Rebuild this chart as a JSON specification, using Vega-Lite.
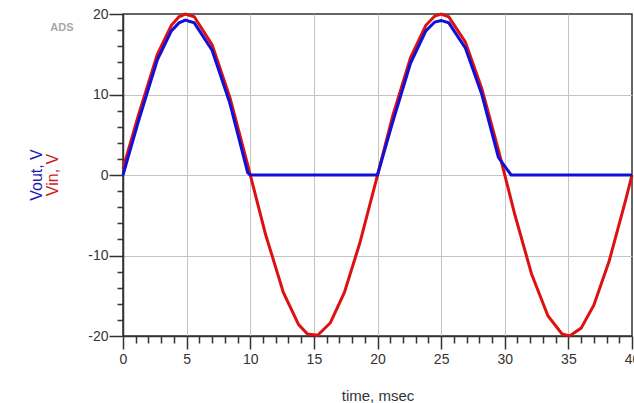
{
  "$schema": "https://vega.github.io/schema/vega-lite/v6.json",
  "autosize": {"type": "none"},
  "padding": {"left": 123, "top": 14, "right": 2, "bottom": 67},
  "width": 509,
  "height": 322,
  "background": "white",
  "config": {
    "view": {"stroke": "#333333", "strokeWidth": 1.5},
    "font": "Liberation Sans",
    "axis": {"labelFont": "Liberation Sans", "titleFont": "Liberation Sans", "labelColor": "#333333", "titleColor": "#333333", "domainColor": "#333333", "tickColor": "#333333", "domainWidth": 1.5, "tickWidth": 1.5, "gridColor": "#c4c4c4", "gridWidth": 1}
  },
  "datasets": {
    "wave": [
      {"t": 0, "v": 0.8, "s": "Vin"},
      {"t": 1.2, "v": 7.36, "s": "Vin"},
      {"t": 2.7, "v": 15.0, "s": "Vin"},
      {"t": 3.8, "v": 18.6, "s": "Vin"},
      {"t": 4.4, "v": 19.65, "s": "Vin"},
      {"t": 4.9, "v": 19.99, "s": "Vin"},
      {"t": 5.6, "v": 19.65, "s": "Vin"},
      {"t": 7.0, "v": 16.18, "s": "Vin"},
      {"t": 8.4, "v": 9.63, "s": "Vin"},
      {"t": 9.8, "v": 1.26, "s": "Vin"},
      {"t": 11.2, "v": -7.36, "s": "Vin"},
      {"t": 12.6, "v": -14.58, "s": "Vin"},
      {"t": 13.8, "v": -18.59, "s": "Vin"},
      {"t": 14.5, "v": -19.75, "s": "Vin"},
      {"t": 15.3, "v": -19.91, "s": "Vin"},
      {"t": 16.3, "v": -18.35, "s": "Vin"},
      {"t": 17.4, "v": -14.58, "s": "Vin"},
      {"t": 18.6, "v": -8.51, "s": "Vin"},
      {"t": 19.9, "v": -0.63, "s": "Vin"},
      {"t": 21.2, "v": 7.36, "s": "Vin"},
      {"t": 22.6, "v": 14.58, "s": "Vin"},
      {"t": 23.8, "v": 18.6, "s": "Vin"},
      {"t": 24.5, "v": 19.75, "s": "Vin"},
      {"t": 25.0, "v": 20.0, "s": "Vin"},
      {"t": 25.6, "v": 19.65, "s": "Vin"},
      {"t": 26.9, "v": 16.54, "s": "Vin"},
      {"t": 28.2, "v": 10.72, "s": "Vin"},
      {"t": 29.5, "v": 3.13, "s": "Vin"},
      {"t": 30.8, "v": -4.97, "s": "Vin"},
      {"t": 32.1, "v": -12.26, "s": "Vin"},
      {"t": 33.4, "v": -17.52, "s": "Vin"},
      {"t": 34.5, "v": -19.75, "s": "Vin"},
      {"t": 35.1, "v": -19.99, "s": "Vin"},
      {"t": 36.0, "v": -19.02, "s": "Vin"},
      {"t": 37.0, "v": -16.18, "s": "Vin"},
      {"t": 38.2, "v": -10.72, "s": "Vin"},
      {"t": 39.5, "v": -3.13, "s": "Vin"},
      {"t": 40.0, "v": 0, "s": "Vin"},
      {"t": 0, "v": 0, "s": "Vout"},
      {"t": 1.2, "v": 6.6, "s": "Vout"},
      {"t": 2.7, "v": 14.3, "s": "Vout"},
      {"t": 3.8, "v": 17.9, "s": "Vout"},
      {"t": 4.4, "v": 18.9, "s": "Vout"},
      {"t": 4.9, "v": 19.25, "s": "Vout"},
      {"t": 5.6, "v": 18.9, "s": "Vout"},
      {"t": 7.0, "v": 15.5, "s": "Vout"},
      {"t": 8.4, "v": 8.9, "s": "Vout"},
      {"t": 9.8, "v": 0.3, "s": "Vout"},
      {"t": 10.0, "v": 0, "s": "Vout"},
      {"t": 15.0, "v": 0, "s": "Vout"},
      {"t": 20.0, "v": 0, "s": "Vout"},
      {"t": 21.2, "v": 6.6, "s": "Vout"},
      {"t": 22.6, "v": 13.9, "s": "Vout"},
      {"t": 23.8, "v": 17.9, "s": "Vout"},
      {"t": 24.5, "v": 19.0, "s": "Vout"},
      {"t": 25.0, "v": 19.2, "s": "Vout"},
      {"t": 25.6, "v": 18.9, "s": "Vout"},
      {"t": 26.9, "v": 15.8, "s": "Vout"},
      {"t": 28.2, "v": 10.0, "s": "Vout"},
      {"t": 29.5, "v": 2.2, "s": "Vout"},
      {"t": 30.5, "v": 0, "s": "Vout"},
      {"t": 35.0, "v": 0, "s": "Vout"},
      {"t": 40.0, "v": 0, "s": "Vout"}
    ],
    "labels": [
      {"t": -4.8, "v": 18.3, "text": "ADS", "kind": "logo"},
      {"t": -6.75, "v": 0, "text": "Vout, V", "kind": "vout"},
      {"t": -5.5, "v": 0, "text": "Vin, V", "kind": "vin"}
    ]
  },
  "encoding": {
    "x": {
      "field": "t", "type": "quantitative",
      "scale": {"domain": [0, 40], "nice": false, "zero": false},
      "axis": {
        "title": "time, msec", "titleFontSize": 15, "titleFontWeight": "normal", "titlePadding": 22,
        "values": [0,1,2,3,4,5,6,7,8,9,10,11,12,13,14,15,16,17,18,19,20,21,22,23,24,25,26,27,28,29,30,31,32,33,34,35,36,37,38,39,40],
        "labelExpr": "datum.value % 5 === 0 ? toString(datum.value) : ''",
        "labelFontSize": 14, "labelPadding": 3, "labelFlush": false, "labelOverlap": false,
        "tickSize": {"condition": {"test": "datum.value % 5 === 0", "value": 13}, "value": 7},
        "grid": true,
        "gridOpacity": {"condition": {"test": "datum.value % 5 === 0 && datum.value > 0 && datum.value < 40", "value": 1}, "value": 0}
      }
    },
    "y": {
      "field": "v", "type": "quantitative",
      "scale": {"domain": [-20, 20], "nice": false, "zero": false},
      "axis": {
        "title": null,
        "values": [-20,-18,-16,-14,-12,-10,-8,-6,-4,-2,0,2,4,6,8,10,12,14,16,18,20],
        "labelExpr": "datum.value % 10 === 0 ? toString(datum.value) : ''",
        "labelFontSize": 14, "labelPadding": 1, "labelFlush": false, "labelOverlap": false,
        "tickSize": {"condition": {"test": "datum.value % 10 === 0", "value": 14}, "value": 6},
        "grid": true,
        "gridOpacity": {"condition": {"test": "datum.value % 10 === 0 && datum.value > -20 && datum.value < 20", "value": 1}, "value": 0}
      }
    }
  },
  "layer": [
    {
      "data": {"name": "wave"},
      "transform": [{"filter": "datum.s === 'Vin'"}],
      "mark": {"type": "line", "color": "#dd1111", "strokeWidth": 3, "clip": false}
    },
    {
      "data": {"name": "wave"},
      "transform": [{"filter": "datum.s === 'Vout'"}],
      "mark": {"type": "line", "color": "#1010d8", "strokeWidth": 3, "clip": false}
    },
    {
      "data": {"name": "labels"},
      "transform": [{"filter": "datum.kind === 'logo'"}],
      "mark": {"type": "text", "color": "#a8a8a8", "fontSize": 11, "fontWeight": "bold", "align": "center", "baseline": "middle", "clip": false},
      "encoding": {"text": {"field": "text"}}
    },
    {
      "data": {"name": "labels"},
      "transform": [{"filter": "datum.kind === 'vout'"}],
      "mark": {"type": "text", "color": "#1a1ab8", "fontSize": 16, "angle": 270, "align": "center", "baseline": "middle", "clip": false},
      "encoding": {"text": {"field": "text"}}
    },
    {
      "data": {"name": "labels"},
      "transform": [{"filter": "datum.kind === 'vin'"}],
      "mark": {"type": "text", "color": "#cc1a1a", "fontSize": 16, "angle": 270, "align": "center", "baseline": "middle", "clip": false},
      "encoding": {"text": {"field": "text"}}
    }
  ]
}
